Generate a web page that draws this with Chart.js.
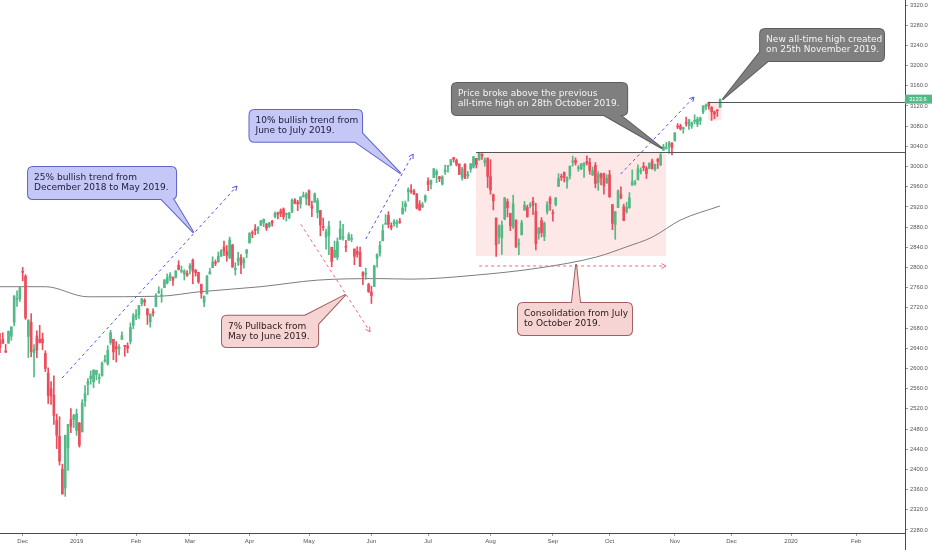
<!DOCTYPE html>
<html>
<head>
<meta charset="utf-8">
<script src="https://cdn.jsdelivr.net/npm/chart.js@4.4.1/dist/chart.umd.min.js"></script>
<style>
  html, body { margin: 0; padding: 0; background: #fff; }
</style>
</head>
<body>
<canvas id="spxChart" width="932" height="550"></canvas>
<script>
// S&P 500 daily candles, 20 Nov 2018 -> 25 Nov 2019 (one entry per trading day)
const opens = [
  2654.6, 2657.7, 2633.4, 2650.0, 2663.8, 2691.5, 2737.0, 2737.8,
  2790.5, 2782.4, 2663.5, 2691.3, 2630.9, 2664.4, 2658.2, 2658.7, 2629.7, 2590.8, 2559.9, 2547.1, 2496.8, 2465.4, 2400.6, 2363.1, 2442.5, 2498.8, 2498.9,
  2477.0, 2491.9, 2474.3, 2535.6, 2568.1, 2580.0, 2573.5, 2588.1, 2580.3, 2585.1, 2614.8, 2609.3, 2651.3, 2657.9, 2643.5, 2638.8, 2657.4, 2645.0, 2644.9, 2653.6, 2685.5,
  2702.3, 2706.5, 2728.3, 2735.1, 2717.5, 2692.4, 2712.4, 2722.6, 2750.3, 2743.5, 2760.2, 2769.3, 2779.1, 2780.7, 2780.7, 2804.4, 2792.4, 2787.5, 2788.1,
  2798.2, 2814.4, 2794.4, 2790.3, 2766.5, 2730.8, 2747.6, 2787.3, 2799.8, 2810.4, 2810.8, 2822.6, 2840.8, 2831.3, 2819.7, 2844.5, 2796.0, 2812.7, 2819.7, 2809.4, 2828.3,
  2848.6, 2868.2, 2876.1, 2874.0, 2884.2, 2888.5, 2886.6, 2881.4, 2891.9, 2900.9, 2908.3, 2912.3, 2916.0, 2904.8, 2898.8, 2910.0, 2934.0, 2929.0, 2925.8, 2940.6, 2937.1,
  2952.3, 2922.2, 2929.2, 2908.9, 2913.0, 2879.6, 2859.8, 2863.1, 2840.2, 2820.1, 2820.4, 2855.8, 2858.6, 2841.9, 2854.0, 2856.1, 2836.7, 2832.4, 2830.0, 2790.3, 2786.9, 2766.2,
  2751.5, 2762.6, 2818.1, 2828.5, 2852.9, 2885.8, 2903.3, 2882.7, 2886.2, 2886.8, 2889.8, 2906.7, 2920.6, 2949.6, 2952.7, 2951.4, 2945.8, 2926.1, 2919.7, 2932.9,
  2971.4, 2964.7, 2978.1, 2984.3, 2979.8, 2965.5, 2989.3, 2999.6, 3003.4, 3017.8, 3012.1, 3005.1, 2978.9, 3004.3, 2981.9, 2994.7, 2998.8, 3016.3, 3013.3, 3024.5, 3007.7, 3016.2,
  2980.3, 2943.9, 2898.1, 2861.2, 2858.7, 2896.2, 2930.5, 2907.1, 2880.7, 2894.2, 2846.2, 2864.7, 2913.5, 2919.0, 2922.0, 2930.9, 2911.1, 2866.7, 2893.1, 2861.3, 2910.4, 2937.1,
  2909.0, 2924.7, 2960.6, 2980.3, 2988.4, 2971.0, 2981.4, 3009.1, 3012.2, 2996.4, 2995.7, 3001.5, 3010.4, 3008.4, 2983.5, 3002.4, 2968.4, 2985.7, 2985.5, 2967.1,
  2983.7, 2924.8, 2885.4, 2918.6, 2944.2, 2920.4, 2911.1, 2918.6, 2963.1, 2965.8, 2973.6, 2989.7, 3000.8, 2996.8, 2996.5, 3010.7, 2994.0, 3014.8, 3003.3, 3032.1, 3035.4, 3039.7, 3046.9,
  3050.7, 3079.0, 3080.8, 3075.1, 3087.0, 3081.3, 3080.3, 3089.3, 3084.2, 3090.8, 3107.9, 3117.9, 3127.5, 3117.2, 3108.5, 3111.4, 3117.4
];
const highs = [
  2669.4, 2670.7, 2647.6, 2674.4, 2682.5, 2744.0, 2753.8, 2760.9,
  2800.2, 2785.9, 2696.2, 2708.5, 2647.5, 2674.4, 2685.4, 2670.2, 2635.1, 2601.1, 2574.0, 2585.3, 2509.6, 2504.4, 2410.3, 2467.8, 2489.1, 2520.3, 2509.2,
  2519.5, 2493.1, 2538.1, 2566.2, 2579.8, 2595.3, 2597.8, 2596.3, 2589.3, 2613.1, 2625.8, 2645.1, 2675.5, 2657.9, 2653.2, 2647.2, 2672.4, 2645.0, 2650.9, 2690.4, 2709.0,
  2716.7, 2725.0, 2739.0, 2738.1, 2719.3, 2708.1, 2718.1, 2748.2, 2761.9, 2757.9, 2775.7, 2787.3, 2789.9, 2781.6, 2794.2, 2813.5, 2803.1, 2795.8, 2793.7,
  2808.0, 2816.9, 2796.4, 2790.3, 2767.3, 2744.1, 2784.0, 2798.3, 2821.2, 2815.0, 2830.7, 2835.4, 2852.4, 2843.5, 2860.3, 2846.2, 2809.8, 2829.9, 2825.6, 2819.7, 2836.0,
  2869.4, 2872.9, 2885.3, 2881.3, 2893.2, 2896.0, 2886.9, 2889.7, 2893.4, 2910.5, 2909.6, 2916.1, 2918.0, 2908.4, 2909.5, 2936.3, 2936.8, 2933.1, 2939.9, 2949.5, 2948.2,
  2954.1, 2931.7, 2947.9, 2937.3, 2913.0, 2898.0, 2876.0, 2891.3, 2840.2, 2852.5, 2858.7, 2892.2, 2885.5, 2853.9, 2868.9, 2865.5, 2836.7, 2841.4, 2840.5, 2792.0, 2799.0, 2769.0,
  2763.1, 2804.5, 2827.3, 2852.1, 2885.0, 2904.8, 2910.6, 2888.6, 2895.2, 2894.5, 2897.3, 2930.8, 2931.7, 2958.1, 2964.2, 2954.9, 2946.5, 2932.6, 2929.3, 2944.0,
  2977.9, 2973.2, 2995.8, 2994.0, 2980.8, 2981.9, 3003.0, 3002.3, 3013.9, 3017.8, 3015.0, 3005.3, 2998.3, 3006.0, 2990.7, 3005.9, 3019.6, 3016.3, 3028.0, 3025.6, 3017.2, 3017.4,
  3013.6, 2945.5, 2898.1, 2884.4, 2892.2, 2938.7, 2935.8, 2907.6, 2943.3, 2894.2, 2856.7, 2893.6, 2931.0, 2923.6, 2928.7, 2939.1, 2927.0, 2879.3, 2898.8, 2890.0, 2930.5, 2940.4,
  2914.4, 2938.8, 2985.9, 2985.0, 2989.4, 2979.4, 3000.9, 3020.7, 3017.3, 3002.2, 3006.2, 3007.8, 3021.2, 3016.4, 2999.2, 3008.0, 2989.8, 2987.3, 2987.3, 2983.9,
  2992.5, 2924.8, 2911.1, 2953.7, 2959.8, 2925.5, 2929.3, 2948.5, 2993.3, 2972.8, 3003.3, 2997.5, 3008.3, 3000.0, 3007.3, 3014.6, 3004.8, 3016.1, 3027.4, 3044.1, 3047.9, 3050.1, 3046.9,
  3067.0, 3085.2, 3084.0, 3078.3, 3097.8, 3093.1, 3088.3, 3102.6, 3098.1, 3098.2, 3120.5, 3124.2, 3127.6, 3119.0, 3110.1, 3112.9, 3133.8
];
const lows = [
  2631.5, 2649.8, 2631.1, 2650.0, 2655.9, 2684.4, 2722.9, 2732.8,
  2773.4, 2697.2, 2621.5, 2623.1, 2583.2, 2621.3, 2650.3, 2637.3, 2593.8, 2530.5, 2528.7, 2489.0, 2441.2, 2408.6, 2351.1, 2346.6, 2397.9, 2472.9, 2482.8,
  2467.5, 2444.0, 2474.3, 2524.6, 2547.6, 2568.9, 2562.0, 2577.4, 2570.4, 2585.1, 2612.7, 2606.4, 2647.6, 2617.3, 2612.9, 2627.0, 2657.3, 2624.1, 2631.1, 2648.3, 2678.7,
  2696.9, 2698.8, 2724.0, 2724.2, 2687.3, 2681.8, 2703.8, 2722.6, 2748.6, 2731.2, 2760.2, 2767.3, 2774.1, 2764.6, 2779.1, 2795.0, 2789.5, 2775.1, 2782.5,
  2787.4, 2767.7, 2783.0, 2768.7, 2739.1, 2722.3, 2747.6, 2786.7, 2799.8, 2803.5, 2810.8, 2822.0, 2823.3, 2812.4, 2817.4, 2800.5, 2785.0, 2804.0, 2787.7, 2798.8, 2819.2,
  2848.6, 2858.8, 2865.2, 2867.1, 2883.0, 2880.8, 2873.3, 2879.1, 2882.0, 2898.4, 2896.5, 2900.7, 2895.5, 2891.9, 2896.4, 2908.5, 2926.1, 2912.8, 2917.6, 2939.4, 2924.1,
  2923.4, 2900.5, 2929.2, 2898.2, 2862.6, 2873.3, 2836.4, 2825.4, 2801.4, 2820.1, 2815.1, 2855.8, 2854.2, 2831.3, 2854.0, 2851.1, 2805.5, 2820.2, 2801.6, 2766.1, 2776.7, 2750.5,
  2728.8, 2762.6, 2800.9, 2822.5, 2852.9, 2885.5, 2878.5, 2874.7, 2882.0, 2879.6, 2887.3, 2905.4, 2911.4, 2931.5, 2946.9, 2944.1, 2916.0, 2913.0, 2918.6, 2929.1,
  2952.2, 2955.9, 2978.0, 2968.0, 2970.1, 2963.4, 2984.6, 2988.8, 3001.9, 3008.8, 3001.2, 2984.3, 2973.1, 2975.9, 2976.7, 2988.6, 2996.8, 2997.2, 3012.6, 3014.3, 3000.9, 2958.1,
  2945.2, 2914.1, 2822.1, 2847.4, 2825.7, 2894.5, 2900.2, 2873.1, 2877.1, 2839.6, 2825.5, 2864.7, 2913.5, 2899.6, 2917.9, 2904.5, 2835.0, 2856.0, 2860.6, 2853.1, 2905.7, 2913.3,
  2891.9, 2921.9, 2960.6, 2972.5, 2969.4, 2957.0, 2975.3, 3000.9, 3002.9, 2990.7, 2993.7, 2978.6, 3003.2, 2984.7, 2982.2, 2957.7, 2952.9, 2963.7, 2945.5, 2967.1,
  2938.7, 2874.9, 2855.9, 2918.6, 2935.7, 2892.7, 2907.4, 2917.1, 2963.1, 2962.9, 2973.6, 2985.2, 2991.8, 2976.3, 2995.4, 2995.0, 2991.2, 2996.2, 3001.9, 3032.1, 3034.8, 3026.0, 3023.2,
  3050.7, 3074.9, 3072.2, 3065.9, 3080.2, 3073.6, 3075.8, 3084.7, 3078.8, 3083.3, 3104.6, 3112.1, 3113.5, 3091.4, 3094.6, 3099.3, 3117.4
];
const closes = [
  2641.9, 2649.9, 2632.6, 2673.5, 2682.2, 2743.8, 2737.8, 2760.2,
  2790.4, 2700.1, 2696.0, 2633.1, 2637.7, 2636.8, 2651.1, 2650.5, 2600.0, 2545.9, 2546.2, 2507.0, 2467.4, 2416.6, 2351.1, 2467.7, 2488.8, 2485.7, 2506.9,
  2510.0, 2447.9, 2531.9, 2549.7, 2574.4, 2585.0, 2596.6, 2596.3, 2582.6, 2610.3, 2616.1, 2636.0, 2670.7, 2632.9, 2638.7, 2642.3, 2664.8, 2643.9, 2640.0, 2681.1, 2704.1,
  2706.5, 2724.9, 2737.7, 2731.6, 2706.1, 2707.9, 2709.8, 2744.7, 2753.0, 2745.7, 2775.6, 2779.8, 2784.7, 2774.9, 2792.7, 2796.1, 2793.9, 2792.4, 2784.5,
  2803.7, 2792.8, 2789.7, 2771.5, 2748.9, 2743.1, 2783.3, 2791.5, 2810.9, 2808.5, 2822.5, 2832.9, 2832.6, 2824.2, 2854.9, 2800.7, 2798.4, 2818.5, 2805.4, 2815.4, 2834.4,
  2867.2, 2867.2, 2873.4, 2879.4, 2892.7, 2895.8, 2878.2, 2888.2, 2888.3, 2907.4, 2905.6, 2907.1, 2900.5, 2905.0, 2908.0, 2933.7, 2927.3, 2926.2, 2939.9, 2943.0, 2945.8,
  2923.7, 2917.5, 2945.6, 2932.5, 2884.1, 2879.4, 2870.7, 2881.4, 2811.9, 2834.4, 2851.0, 2876.3, 2859.5, 2840.2, 2864.4, 2856.3, 2822.2, 2826.1, 2802.4, 2783.0, 2788.9, 2752.1,
  2744.5, 2803.3, 2826.2, 2843.5, 2873.3, 2886.7, 2885.7, 2879.8, 2891.6, 2887.0, 2889.7, 2917.8, 2926.5, 2954.2, 2950.5, 2945.4, 2917.4, 2913.8, 2924.9, 2941.8,
  2964.3, 2973.0, 2995.8, 2990.4, 2976.0, 2979.6, 2993.1, 2999.9, 3013.8, 3014.3, 3004.0, 2984.4, 2995.1, 2976.6, 2985.0, 3005.5, 3019.6, 3003.7, 3025.9, 3021.0, 3013.2, 2980.4,
  2953.6, 2932.1, 2844.7, 2881.8, 2884.0, 2938.1, 2918.7, 2882.7, 2926.3, 2840.6, 2847.6, 2888.7, 2923.7, 2900.5, 2924.4, 2923.0, 2847.1, 2878.4, 2869.2, 2887.9, 2924.6, 2926.5,
  2906.3, 2937.8, 2976.0, 2978.7, 2978.4, 2979.4, 3000.9, 3009.6, 3007.4, 2998.0, 3005.7, 3006.7, 3006.8, 2992.1, 2991.8, 2966.6, 2984.9, 2977.6, 2961.8, 2976.7,
  2940.3, 2887.6, 2910.6, 2952.0, 2938.8, 2893.1, 2919.4, 2938.1, 2970.3, 2966.2, 2995.7, 2989.7, 2998.0, 2986.2, 3006.7, 2996.0, 3004.5, 3010.3, 3022.6, 3039.4, 3036.9, 3046.8, 3037.6,
  3066.9, 3078.3, 3074.6, 3076.8, 3085.2, 3093.1, 3087.0, 3091.8, 3094.0, 3096.6, 3120.5, 3122.0, 3120.2, 3108.5, 3103.5, 3110.3, 3133.6
];

// 200 day moving average at a few bar positions
const maBars = [0, 16, 31, 56, 70.5, 92, 112, 134, 145, 168, 190, 210.5, 221, 230, 240, 254];
const maValues = [2762, 2762, 2742, 2743, 2752, 2762, 2775, 2778, 2777, 2785, 2799, 2821, 2841, 2860, 2894, 2922];

// time axis: bar index of the first session of each month
const monthBars = [8, 27, 48, 67, 88, 109, 131, 151, 173, 195, 215, 238, 258, 279, 302];
const monthLabels = ['Dec', '2019', 'Feb', 'Mar', 'Apr', 'May', 'Jun', 'Jul', 'Aug', 'Sep', 'Oct', 'Nov', 'Dec', '2020', 'Feb'];

const priceTicks = [2280, 2320, 2360, 2400, 2440, 2480, 2520, 2560, 2600, 2640, 2680, 2720, 2760, 2800,
  2840, 2880, 2920, 2960, 3000, 3040, 3080, 3120, 3160, 3200, 3240, 3280, 3320];

const lastPrice = 3133.6;

const UP = '#53b987';
const DOWN = '#eb4d5c';
const candleColors = closes.map((c, i) => c >= opens[i] ? UP : DOWN);

// drawings (bar index / price coordinates)
const lavender = { fill: '#c5c7f6', border: '#5f63cc', text: '#1c1c3a' };
const rose = { fill: '#f7d4d4', border: '#a55c5c', text: '#2a1818' };
const grey = { fill: '#7f7f7f', border: '#5e5e5e', text: '#f4f4f4' };

const callouts = [
  { lines: ['25% bullish trend from', 'December 2018 to May 2019.'], box: [9.9, 2999, 62.1, 2935.7],
    base: [[56.9, 2935.7], [61.1, 2935.7]], tip: [68.1, 2870.3], style: lavender },
  { lines: ['10% bullish trend from', 'June to July 2019.'], box: [88, 3112, 127.7, 3049.2],
    base: [[125.2, 3049.2], [127.7, 3066]], tip: [141.1, 2987.2], style: lavender },
  { lines: ['7% Pullback from', 'May to June 2019.'], box: [78.3, 2704.5, 112.2, 2642.5],
    base: [[107.6, 2704.5], [112.2, 2688]], tip: [121.7, 2745.5], style: rose },
  { lines: ['Consolidation from July', 'to October 2019.'], box: [182.7, 2729.7, 222.9, 2666.3],
    base: [[201.7, 2729.7], [204.6, 2729.7]], tip: [203.2, 2805], style: rose },
  { lines: ['Price broke above the previous', 'all-time high on 28th October 2019.'], box: [159.4, 3165.5, 221.2, 3102.1],
    base: [[213, 3102.1], [218.7, 3102.1]], tip: [233.4, 3036.7], style: grey },
  { lines: ['New all-time high created', 'on 25th November 2019.'], box: [268.1, 3272.5, 311.8, 3209.1],
    base: [[268.1, 3227], [270.9, 3209.1]], tip: [255, 3133.8], style: grey }
];

const trendLines = [
  { from: [21.9, 2581.1], to: [83.6, 2961.4], color: '#4f54e6' },
  { from: [129, 2856.4], to: [145.7, 3024.8], color: '#4f54e6' },
  { from: [106.1, 2885.6], to: [130.5, 2672.8], color: '#f0667a' },
  { from: [169, 2803], to: [234.9, 2803], color: '#f0667a' },
  { from: [218.9, 2985.2], to: [244.8, 3137.7], color: '#4f54e6' }
];

const levels = [
  { from: 167.9, price: 3028 },
  { from: 249.8, price: 3127.6 }
];

const zones = [
  [167.9, 3027.4, 234.9, 2822.8],
  [249.8, 3127.6, 254.5, 3091.4]
];

const noteFont = '9px "DejaVu Sans", "Liberation Sans", sans-serif';

function roundRectPath(ctx, x, y, w, h, r) {
  ctx.beginPath();
  ctx.moveTo(x + r, y);
  ctx.lineTo(x + w - r, y);
  ctx.quadraticCurveTo(x + w, y, x + w, y + r);
  ctx.lineTo(x + w, y + h - r);
  ctx.quadraticCurveTo(x + w, y + h, x + w - r, y + h);
  ctx.lineTo(x + r, y + h);
  ctx.quadraticCurveTo(x, y + h, x, y + h - r);
  ctx.lineTo(x, y + r);
  ctx.quadraticCurveTo(x, y, x + r, y);
  ctx.closePath();
}

const drawings = {
  id: 'drawings',
  beforeDatasetsDraw(chart) {
    const { ctx } = chart;
    const xs = chart.scales.x, ys = chart.scales.y;
    ctx.save();
    ctx.fillStyle = 'rgba(242, 120, 120, 0.18)';
    zones.forEach(z => {
      const x1 = xs.getPixelForValue(z[0]), y1 = ys.getPixelForValue(z[1]);
      const x2 = xs.getPixelForValue(z[2]), y2 = ys.getPixelForValue(z[3]);
      ctx.fillRect(x1, y1, x2 - x1, y2 - y1);
    });
    ctx.restore();
  },
  afterDatasetsDraw(chart) {
    const { ctx, chartArea } = chart;
    const xs = chart.scales.x, ys = chart.scales.y;
    const P = pt => [xs.getPixelForValue(pt[0]), ys.getPixelForValue(pt[1])];
    ctx.save();

    // horizontal levels
    ctx.strokeStyle = '#555';
    ctx.lineWidth = 1;
    levels.forEach(l => {
      const y = Math.round(ys.getPixelForValue(l.price)) + 0.5;
      ctx.beginPath();
      ctx.moveTo(xs.getPixelForValue(l.from), y);
      ctx.lineTo(chartArea.right, y);
      ctx.stroke();
    });

    // dashed trend lines with open arrow heads
    trendLines.forEach(t => {
      const [x1, y1] = P(t.from), [x2, y2] = P(t.to);
      ctx.strokeStyle = t.color;
      ctx.lineWidth = 1;
      ctx.setLineDash([3, 3]);
      ctx.beginPath();
      ctx.moveTo(x1, y1);
      ctx.lineTo(x2, y2);
      ctx.stroke();
      ctx.setLineDash([]);
      const a = Math.atan2(y2 - y1, x2 - x1);
      ctx.beginPath();
      ctx.moveTo(x2 - 5 * Math.cos(a - 0.5), y2 - 5 * Math.sin(a - 0.5));
      ctx.lineTo(x2, y2);
      ctx.lineTo(x2 - 5 * Math.cos(a + 0.5), y2 - 5 * Math.sin(a + 0.5));
      ctx.stroke();
    });

    // callouts
    callouts.forEach(c => {
      const [x1, y1] = P([c.box[0], c.box[1]]);
      const [x2, y2] = P([c.box[2], c.box[3]]);
      const tail = [...c.base, c.tip].map(P);
      const st = c.style;
      const tailPath = () => {
        ctx.beginPath();
        ctx.moveTo(tail[0][0], tail[0][1]);
        ctx.lineTo(tail[2][0], tail[2][1]);
        ctx.lineTo(tail[1][0], tail[1][1]);
        ctx.closePath();
      };
      ctx.lineJoin = 'round';
      ctx.lineWidth = 2;
      ctx.strokeStyle = st.border;
      roundRectPath(ctx, x1, y1, x2 - x1, y2 - y1, 5);
      ctx.stroke();
      tailPath();
      ctx.stroke();
      ctx.fillStyle = st.fill;
      roundRectPath(ctx, x1, y1, x2 - x1, y2 - y1, 5);
      ctx.fill();
      tailPath();
      ctx.fill();

      ctx.fillStyle = st.text;
      ctx.font = noteFont;
      ctx.textBaseline = 'middle';
      ctx.textAlign = 'left';
      const cy = (y1 + y2) / 2;
      c.lines.forEach((txt, k) => {
        ctx.fillText(txt, x1 + 6, cy + (k - (c.lines.length - 1) / 2) * 10.2);
      });
    });

    // last price tag on the price axis
    const ty = ys.getPixelForValue(lastPrice);
    ctx.fillStyle = UP;
    ctx.fillRect(chartArea.right, ty - 4.5, 27, 9);
    ctx.fillStyle = '#fff';
    ctx.font = '5.8px "Liberation Sans", sans-serif';
    ctx.textBaseline = 'middle';
    ctx.fillText(lastPrice.toFixed(1), chartArea.right + 4, ty + 0.3);

    // price axis line runs down to the bottom edge
    ctx.strokeStyle = '#4a4a4a';
    ctx.lineWidth = 1;
    ctx.beginPath();
    ctx.moveTo(chartArea.right + 0.5, chartArea.bottom);
    ctx.lineTo(chartArea.right + 0.5, chart.height);
    ctx.stroke();
    ctx.restore();
  }
};

const ctx = document.getElementById('spxChart').getContext('2d');
new Chart(ctx, {
  data: {
    datasets: [{
      type: 'line',
      label: 'MA 200',
      data: maBars.map((b, k) => ({ x: b, y: maValues[k] })),
      borderColor: '#7d7d7d',
      borderWidth: 1,
      pointRadius: 0,
      cubicInterpolationMode: 'monotone',
      order: 3
    }, {
      type: 'bar',
      label: 'wicks',
      data: lows.map((l, i) => ({ x: i, y: [l, highs[i]] })),
      backgroundColor: candleColors,
      barThickness: 1,
      grouped: false,
      order: 2
    }, {
      type: 'bar',
      label: 'bodies',
      data: opens.map((o, i) => ({ x: i, y: [o, closes[i]] })),
      backgroundColor: candleColors,
      barThickness: 2,
      minBarLength: 1,
      grouped: false,
      order: 1
    }]
  },
  options: {
    responsive: false,
    animation: false,
    layout: { padding: 0 },
    plugins: {
      legend: { display: false },
      tooltip: { enabled: false }
    },
    scales: {
      x: {
        type: 'linear',
        min: 0,
        max: 319.2,
        offset: false,
        grid: { offset: false, drawOnChartArea: false, drawTicks: true, tickLength: 3, color: '#9a9a9a' },
        border: { display: true, color: '#4a4a4a' },
        ticks: {
          font: { family: 'Liberation Sans', size: 6 },
          color: '#555',
          padding: 2,
          maxRotation: 0,
          autoSkip: false,
          callback: (v, k) => monthLabels[k]
        },
        afterBuildTicks: s => { s.ticks = monthBars.map(v => ({ value: v })); },
        afterFit: s => { s.height = 17; s.paddingLeft = 0; s.paddingRight = 0; }
      },
      y: {
        type: 'linear',
        position: 'right',
        min: 2274,
        max: 3330,
        grid: { drawOnChartArea: false, drawTicks: true, tickLength: 3, color: '#9a9a9a' },
        border: { display: true, color: '#4a4a4a' },
        ticks: {
          font: { family: 'Liberation Sans', size: 5.8 },
          color: '#555',
          padding: 2,
          callback: v => v.toFixed(1)
        },
        afterBuildTicks: s => { s.ticks = priceTicks.map(v => ({ value: v })); },
        afterFit: s => { s.width = 27; s.paddingTop = 0; s.paddingBottom = 0; }
      }
    }
  },
  plugins: [drawings]
});
</script>
</body>
</html>
